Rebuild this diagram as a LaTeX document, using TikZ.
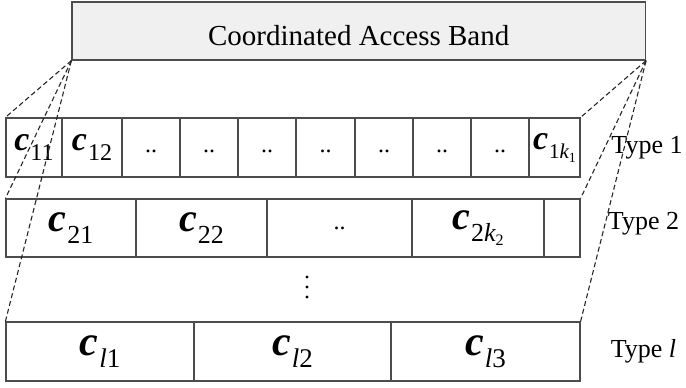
\documentclass[tikz,border=0pt]{standalone}
\usepackage{fontspec}
\setmainfont{Liberation Serif}
% c with a lowered index: c size, index size, drop, index
\newcommand{\cvar}[4]{{\fontsize{#1}{#1}\selectfont\bfseries\itshape c}\kern1pt\raisebox{-#3pt}{\fontsize{#2}{#2}\selectfont #4}}
\newcommand{\kvar}[2]{{\itshape k}\raisebox{-4pt}{\fontsize{#1}{#1}\selectfont #2}}
\newcommand{\dotdot}{{\fontsize{24}{24}\selectfont ..}}

\begin{document}
\begin{tikzpicture}[x=1pt, y=-1pt,
		cell/.style={draw=black!70, line width=1.2pt, minimum height=59pt, inner sep=0pt},
		guide/.style={black!85, line width=1.1pt, dash pattern=on 5pt off 3pt},
		typelabel/.style={font=\fontsize{26}{26}\selectfont}]
		\useasboundingbox (0,0) rectangle (686,388);

		\node[cell, fill=black!6, minimum width=573.5pt, minimum height=58pt] (band) at (358.75,31) {\fontsize{29}{29}\selectfont\rule{0pt}{30pt}Coordinated Access Band};

		% type 1
		\node[cell, minimum width=56pt] (c11) at (34,147.5) {\cvar{34}{24}{10}{11}};
		\node[cell, minimum width=60pt] (c12) at (92,147.5) {\cvar{34}{24}{10}{12}};
		\foreach \x/\w [count=\i] in {151/58, 209/58, 267/58, 325.5/59, 384/58, 442/58, 500/58}
			\node[cell, minimum width=\w] (d\i) at (\x,147.5) {\rule{0pt}{10pt}\dotdot};
		\node[cell, minimum width=51pt] (c1k) at (554.5,147.5) {\cvar{34}{21}{9}{1\kvar{14}{1}}};

		% type 2
		\node[cell, minimum width=130pt, minimum height=58pt] (c21) at (71,228) {\cvar{40}{26}{12}{21}};
		\node[cell, minimum width=131pt, minimum height=58pt] (c22) at (201.5,228) {\cvar{40}{26}{12}{22}};
		\node[cell, minimum width=145pt, minimum height=58pt] (c2d) at (339.5,228) {\dotdot};
		\node[cell, minimum width=132pt, minimum height=58pt] (c2k) at (478,228) {\cvar{40}{26}{12}{2\kvar{16}{2}}};
		\node[cell, minimum width=36pt, minimum height=58pt] (c2e) at (562,228) {};

		\foreach \y in {277,287,297}
			\fill (307,\y) circle (1.7);

		% type l
		\node[cell, minimum width=188pt] (cl1) at (100,351.5) {\cvar{42}{27}{12}{{\itshape l}1}};
		\node[cell, minimum width=197pt] (cl2) at (292.5,351.5) {\cvar{42}{27}{12}{{\itshape l}2}};
		\node[cell, minimum width=189pt] (cl3) at (485.5,351.5) {\cvar{42}{27}{12}{{\itshape l}3}};

		\node[typelabel] (t1) at (647,148) {Type 1};
		\node[typelabel] (t2) at (643.5,224) {Type 2};
		\node[typelabel] (tl) at (643.5,351.5) {Type \textit{l}};

		\draw[guide] (band.south west) -- (c11.north west);
		\draw[guide] (band.south west) -- (c21.north west);
		\draw[guide] (band.south west) -- (cl1.north west);
		\draw[guide] (band.south east) -- (c1k.north east);
		\draw[guide] (band.south east) -- (c2e.north east);
		\draw[guide] (band.south east) -- (cl3.north east);
	\end{tikzpicture}
\end{document}
